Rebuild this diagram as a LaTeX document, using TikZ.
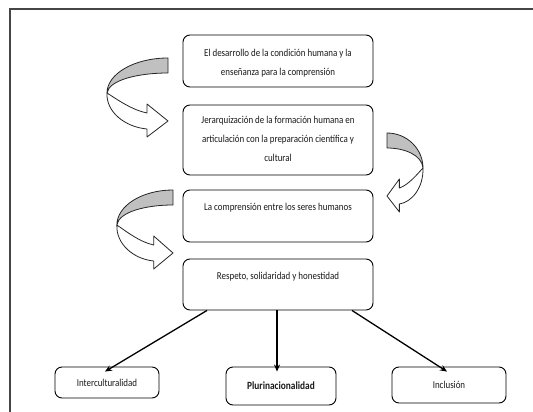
\documentclass[tikz,border=0pt]{standalone}
\usepackage{fontspec}
\setmainfont{Carlito}
\newfontfamily\condfont[FakeStretch=0.85]{Carlito}
\usetikzlibrary{arrows.meta,calc}
\definecolor{backgray}{RGB}{192,192,192}
\definecolor{framegray}{RGB}{70,70,70}
\tikzset{
  box/.style={draw=black, line width=0.9pt, rounded corners=7pt, fill=white, inner sep=0pt},
  txt/.style={font=\condfont\fontsize{10.5}{19}\selectfont, text=black!90, align=center, inner sep=0pt},
  conn/.style={line width=1.3pt, -{Stealth[length=7pt,width=6pt]}},
  band/.style={draw=black!85, line width=0.8pt, line join=round},
  curvarrow/.pic={
    \filldraw[band, fill=backgray] (0,0) .. controls (-34,0) and (-61,16) .. (-61,35)
      .. controls (-59,22) and (-30,15) .. (0,15) -- cycle;
    \filldraw[band, fill=white] (-61,35) .. controls (-62,54) and (-43,69) .. (-21,71)
      -- (-21,79) -- (0,63) -- (-21,46) -- (-21,55)
      .. controls (-36,52) and (-50,42) .. (-61,35) -- cycle;
  }
}
\begin{document}
\begin{tikzpicture}[x=1pt,y=-1pt]
\useasboundingbox (0,0) rectangle (533,412);
\draw[framegray, line width=1.2pt] (533,9) -- (10,9) -- (10,412);

% main boxes
\node[box, minimum width=190pt, minimum height=52pt] (b1) at (278,61) {};
\node[box, minimum width=190pt, minimum height=70pt] (b2) at (278,140) {};
\node[box, minimum width=190pt, minimum height=52pt] (b3) at (278,216) {};
\node[box, minimum width=190pt, minimum height=51pt] (b4) at (278,284.5) {};

\node[txt] (t1) at (278,63) {El desarrollo de la condición humana y la\\enseñanza para la comprensión};
\node[txt] (t2) at (278,139) {Jerarquización de la formación humana en\\articulación con la preparación científica y\\cultural};
\node[txt] (t3) at (278,208) {La comprensión entre los seres humanos};
\node[txt] (t4) at (278,277) {Respeto, solidaridad y honestidad};

% bottom boxes
\node[box, minimum width=104pt, minimum height=31pt, txt] (inter) at (107,382.5) {Interculturalidad};
\node[box, minimum width=110pt, minimum height=38pt, txt, font=\condfont\fontsize{11}{19}\selectfont\bfseries] (pluri) at (281,386) {Plurinacionalidad};
\node[box, minimum width=114pt, minimum height=36pt, txt] (incl) at (449,385) {Inclusión};

% connectors
\draw[conn] ([xshift=-71pt]b4.south) -- ([xshift=-2pt,yshift=-5pt]inter.north);
\draw[conn] ([xshift=-1pt]b4.south) -- ([xshift=-4pt,yshift=-5pt]pluri.north);
\draw[conn] ([xshift=74pt]b4.south) -- ([xshift=-2pt,yshift=-5pt]incl.north);

% curved arrows
\pic (ca1) at (168,58) {curvarrow};
\pic[xscale=-0.59] (ca2) at (387,133) {curvarrow};
\pic[xscale=0.92] (ca3) at (173,190) {curvarrow};
\end{tikzpicture}
\end{document}
